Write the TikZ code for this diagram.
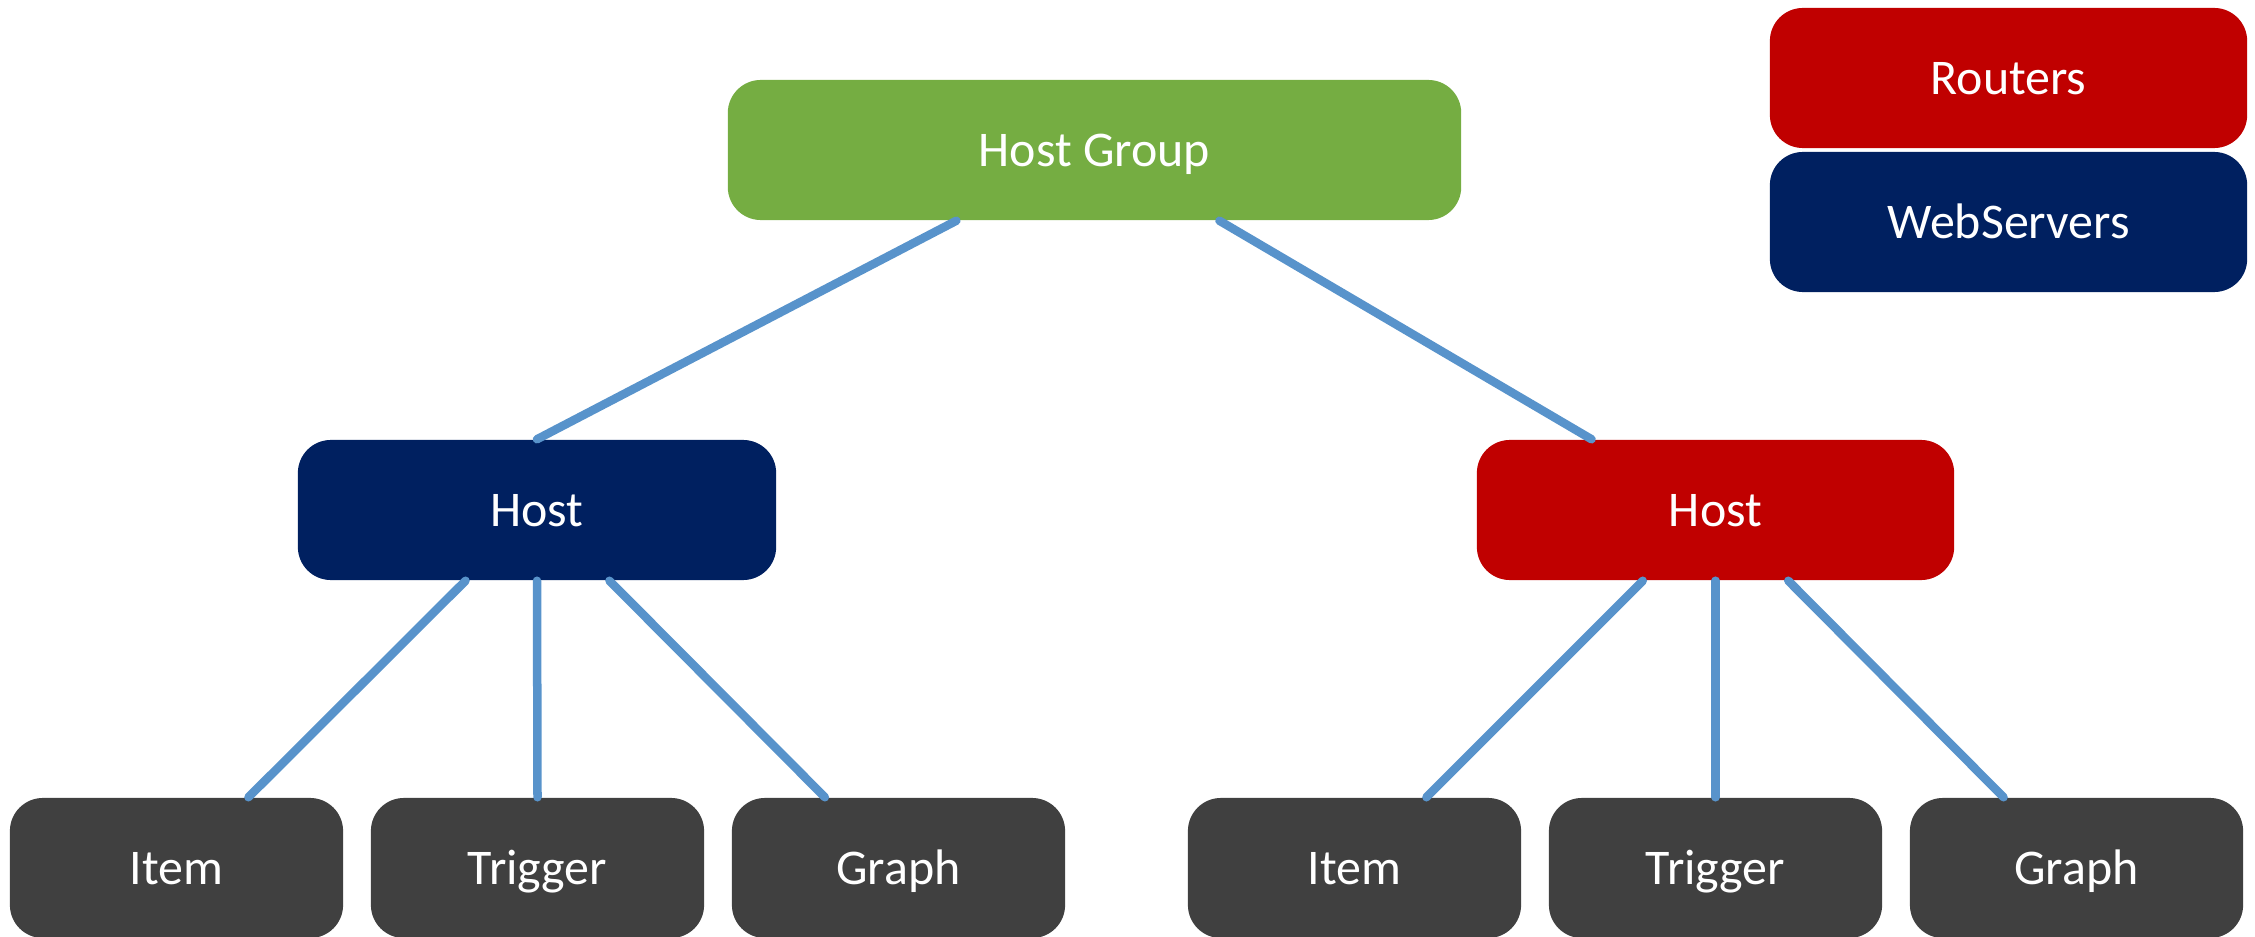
\documentclass[tikz,border=0pt]{standalone}
\usepackage{fontspec}
\setmainfont{Carlito}
\usetikzlibrary{calc}
\definecolor{hgreen}{HTML}{75AD42}
\definecolor{hnavy}{HTML}{002060}
\definecolor{hred}{HTML}{C00000}
\definecolor{hgray}{HTML}{404040}
\definecolor{lineblue}{HTML}{5893CB}
\begin{document}
\begin{tikzpicture}[x=0.01cm,y=-0.01cm,
  box/.style={rounded corners=0.33cm, inner sep=0pt, text=white,
    font=\fontsize{14.2}{17}\selectfont, minimum height=1.40cm,
    text height=0.32cm, text depth=0pt},
  wide/.style={box, minimum width=#1},
  link/.style={draw=lineblue, line width=0.085cm, line cap=round}]
\useasboundingbox (0,0) rectangle (2255,937);
% top level
\node[wide=7.33cm, fill=hgreen] (hg) at (1094.5,150) {Host Group};
% legend
\node[wide=4.77cm, fill=hred] (routers) at (2008.5,78) {Routers};
\node[wide=4.77cm, fill=hnavy] (web) at (2008.5,222) {WebServers};
% hosts
\node[wide=4.78cm, fill=hnavy] (hl) at (537,510) {Host};
\node[wide=4.77cm, fill=hred] (hr) at (1715.5,510) {Host};
% leaves
\node[wide=3.33cm, fill=hgray] (il) at (176.5,868) {Item};
\node[wide=3.33cm, fill=hgray] (tl) at (537.5,868) {Trigger};
\node[wide=3.33cm, fill=hgray] (gl) at (898.5,868) {Graph};
\node[wide=3.33cm, fill=hgray] (ir) at (1354.5,868) {Item};
\node[wide=3.33cm, fill=hgray] (tr) at (1715.5,868) {Trigger};
\node[wide=3.33cm, fill=hgray] (gr) at (2076.5,868) {Graph};
% connectors
\draw[link] ($(hg.south west)!0.312!(hg.south east)$) -- (hl.north);
\draw[link] ($(hg.south west)!0.670!(hg.south east)$) -- ($(hr.north west)!0.241!(hr.north east)$);
\draw[link] ($(hl.south west)!0.351!(hl.south east)$) -- ($(il.north west)!0.715!(il.north east)$);
\draw[link] (hl.south) -- (tl.north);
\draw[link] ($(hl.south west)!0.651!(hl.south east)$) -- ($(gl.north west)!0.280!(gl.north east)$);
\draw[link] ($(hr.south west)!0.348!(hr.south east)$) -- ($(ir.north west)!0.715!(ir.north east)$);
\draw[link] (hr.south) -- (tr.north);
\draw[link] ($(hr.south west)!0.652!(hr.south east)$) -- ($(gr.north west)!0.282!(gr.north east)$);
\end{tikzpicture}
\end{document}
